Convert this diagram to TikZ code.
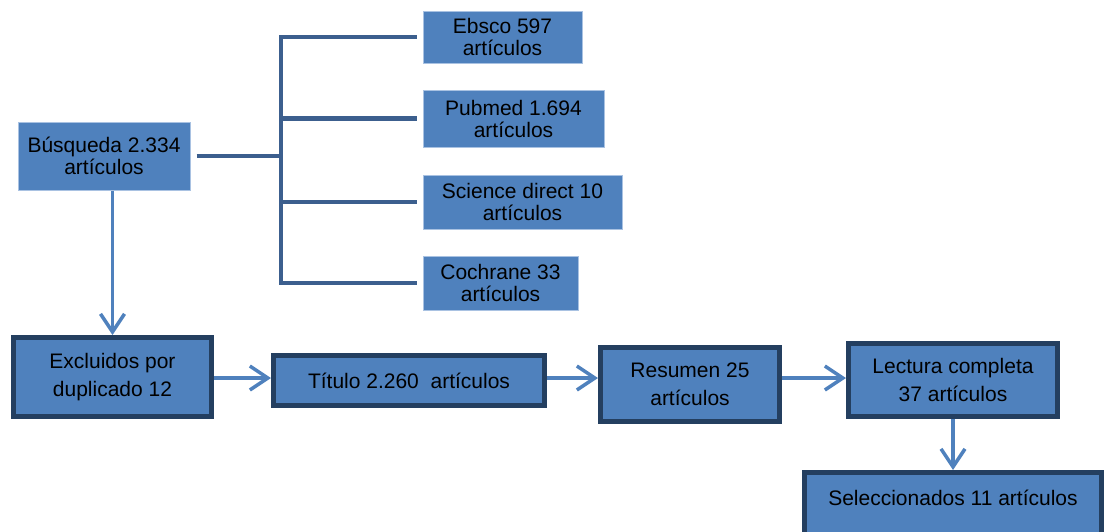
\documentclass[tikz,border=0pt]{standalone}
\usepackage{fontspec}
\setmainfont{Liberation Sans}
\usetikzlibrary{arrows.meta}
\definecolor{boxblue}{HTML}{4F81BD}
\definecolor{darkframe}{HTML}{243F60}
\definecolor{bracketblue}{HTML}{3C5F8E}
\definecolor{lightedge}{HTML}{A9C2E2}
\begin{document}
\begin{tikzpicture}[x=1pt,y=-1pt,
  lightbox/.style={fill=boxblue, draw=lightedge, line width=1pt, text=black,
    font=\fontsize{21}{22}\selectfont, align=center, inner sep=0pt},
  heavybox/.style={fill=boxblue, draw=darkframe, line width=5pt, text=black,
    font=\fontsize{21}{28}\selectfont, align=center, inner sep=0pt},
  flow/.style={draw=boxblue, line width=3.5pt,
    -{Straight Barb[length=18pt,width=24pt,line width=3.5pt]}},
  bracket/.style={draw=bracketblue, line width=4.5pt, line join=miter}]
\useasboundingbox (0,0) rectangle (1105,531);
\clip (0,0) rectangle (1105,531);

% top part
\node[lightbox, minimum width=172pt, minimum height=68pt] (busq) at (104,156) {Búsqueda 2.334\\artículos};
\node[lightbox, minimum width=159pt, minimum height=52pt] (ebsco) at (502.5,37) {Ebsco 597\\artículos};
\node[lightbox, minimum width=181pt, minimum height=57pt] (pubmed) at (513.5,118.5) {Pubmed 1.694\\artículos};
\node[lightbox, minimum width=199pt, minimum height=54pt] (science) at (522.5,202) {Science direct 10\\artículos};
\node[lightbox, minimum width=155pt, minimum height=54pt] (cochrane) at (500.5,283) {Cochrane 33\\artículos};

% bottom row
\node[heavybox, minimum width=198pt, minimum height=79pt] (excl) at (112.5,377) {Excluidos por\\duplicado 12};
\node[heavybox, minimum width=271pt, minimum height=50pt] (titulo) at (409,380.5) {Título 2.260\ \ artículos};
\node[heavybox, minimum width=179pt, minimum height=74pt] (resumen) at (690,384.5) {Resumen 25\\artículos};
\node[heavybox, minimum width=209pt, minimum height=73pt] (lectura) at (953,380) {Lectura completa\\37 artículos};
\node[heavybox, anchor=north, minimum width=297pt, text height=32.5pt, text depth=60pt] (sel) at (953,470) {Seleccionados 11 artículos};

% bracket
\coordinate (bx) at (281,156);
\draw[bracket] ([xshift=6pt]busq.east) -- (bx);
\draw[bracket] ([xshift=-6pt]ebsco.west) -- (bx |- ebsco.west) -- (bx |- cochrane.west) -- ([xshift=-6pt]cochrane.west);
\draw[bracket] (bx |- pubmed.west) -- ([xshift=-6pt]pubmed.west);
\draw[bracket] (bx |- science.west) -- ([xshift=-6pt]science.west);

% flow arrows
\coordinate (row) at (0,378);
\draw[flow] (excl.north |- busq.south) -- (excl.north);
\draw[flow] (excl.east |- row) -- (titulo.west |- row);
\draw[flow] (titulo.east |- row) -- (resumen.west |- row);
\draw[flow] (resumen.east |- row) -- (lectura.west |- row);
\draw[flow] (lectura.south) -- (sel.north);
\end{tikzpicture}
\end{document}
